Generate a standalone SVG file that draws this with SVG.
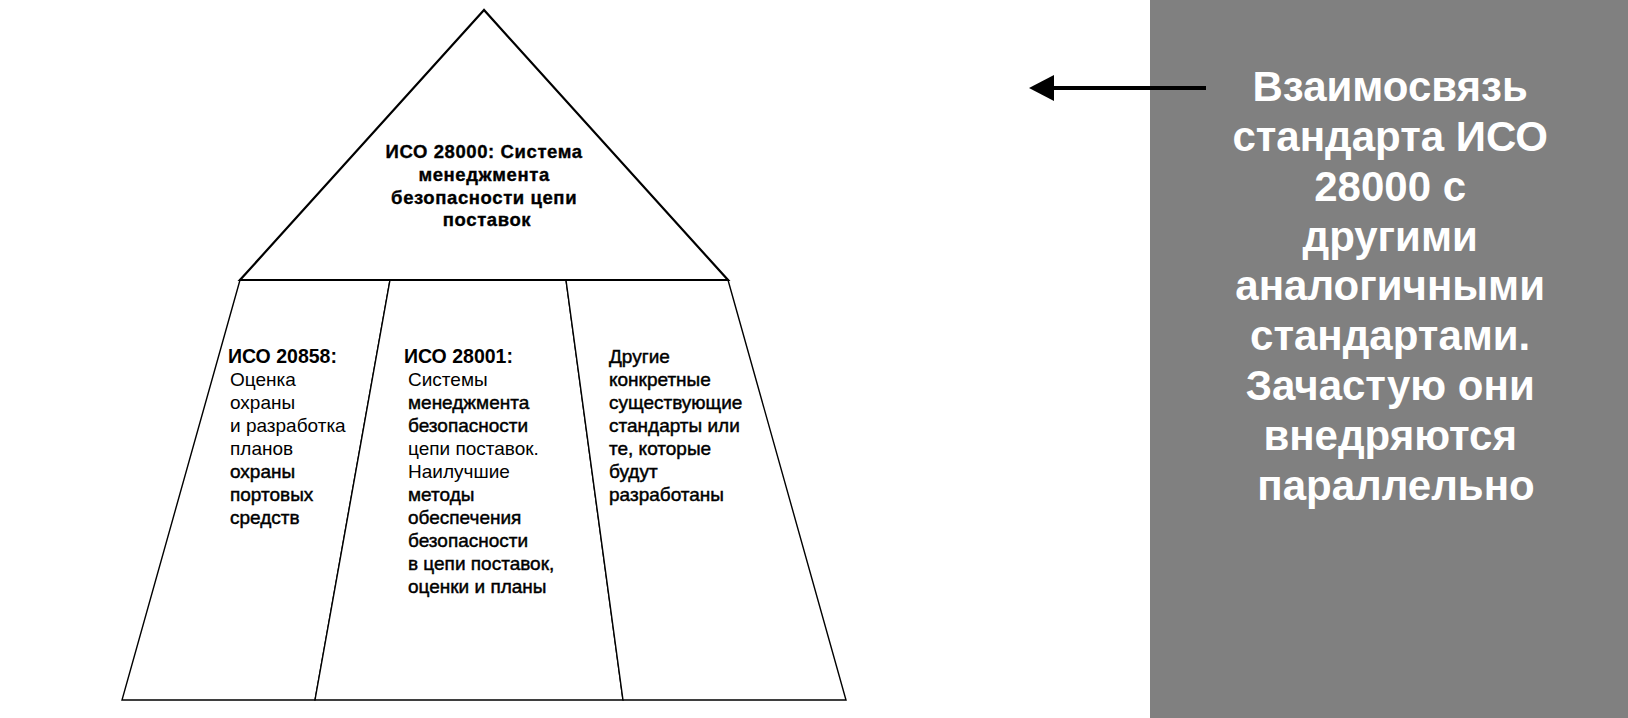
<svg xmlns="http://www.w3.org/2000/svg" width="1628" height="718" viewBox="0 0 1628 718">
<style>
  .shape { fill: #ffffff; stroke: #000000; stroke-linejoin: miter; }
  .tri { stroke-width: 2.2; }
  .col { stroke-width: 1.4; }
  text { font-family: "Liberation Sans", Arial, "Noto Sans", sans-serif; fill: #000000; }
  .top { font-size: 18.5px; font-weight: bold; text-anchor: middle; letter-spacing: 0.6px; stroke: #000000; stroke-width: 0.35; }
  .hd { font-size: 19.5px; font-weight: bold; }
  .r { font-size: 19px; }
  .rb { font-size: 19px; stroke: #000000; stroke-width: 0.45; }
  .panel-text { font-size: 42px; font-weight: bold; fill: #ffffff; text-anchor: middle; }
  .conn { stroke: #000000; stroke-width: 4; fill: none; }
</style>
<defs>
  <marker id="arrowhead" markerUnits="userSpaceOnUse" markerWidth="26" markerHeight="28" refX="0" refY="13" orient="auto">
    <polygon points="0,0 25,13 0,26" fill="#000000"/>
  </marker>
</defs>
<rect x="0" y="0" width="1628" height="718" fill="#ffffff"/>

<g id="panel">
  <rect x="1150" y="0" width="478" height="718" fill="#808080"/>
  <text class="panel-text">
    <tspan x="1396" y="101">Взаимосвязь</tspan>
    <tspan x="1396" y="151">стандарта ИСО</tspan>
    <tspan x="1396" y="201">28000 с</tspan>
    <tspan x="1396" y="251">другими</tspan>
    <tspan x="1396" y="300">аналогичными</tspan>
    <tspan x="1396" y="350">стандартами.</tspan>
    <tspan x="1396" y="400">Зачастую они</tspan>
    <tspan x="1396" y="450">внедряются</tspan>
    <tspan x="1396" y="500">параллельно</tspan>
  </text>
</g>

<g id="col-left">
  <polygon class="shape col" points="240,280 390,280 315,700 122,700"/>
  <text class="hd" x="228" y="363">ИСО 20858:</text>
  <text class="r" x="230" y="386">Оценка</text>
  <text class="r" x="230" y="409">охраны</text>
  <text class="r" x="230" y="432">и разработка</text>
  <text class="r" x="230" y="455">планов</text>
  <text class="rb" x="230" y="478">охраны</text>
  <text class="rb" x="230" y="501">портовых</text>
  <text class="rb" x="230" y="524">средств</text>
</g>

<g id="col-middle">
  <polygon class="shape col" points="390,280 566,280 623,700 315,700"/>
  <text class="hd" x="404" y="363">ИСО 28001:</text>
  <text class="r" x="408" y="386">Системы</text>
  <text class="rb" x="408" y="409">менеджмента</text>
  <text class="rb" x="408" y="432">безопасности</text>
  <text class="r" x="408" y="455">цепи поставок.</text>
  <text class="r" x="408" y="478">Наилучшие</text>
  <text class="rb" x="408" y="501">методы</text>
  <text class="rb" x="408" y="524">обеспечения</text>
  <text class="rb" x="408" y="547">безопасности</text>
  <text class="rb" x="408" y="570">в цепи поставок,</text>
  <text class="rb" x="408" y="593">оценки и планы</text>
</g>

<g id="col-right">
  <polygon class="shape col" points="566,280 728,280 846,700 623,700"/>
  <text class="rb" x="609" y="363">Другие</text>
  <text class="rb" x="609" y="386">конкретные</text>
  <text class="rb" x="609" y="409">существующие</text>
  <text class="rb" x="609" y="432">стандарты или</text>
  <text class="rb" x="609" y="455">те, которые</text>
  <text class="rb" x="609" y="478">будут</text>
  <text class="rb" x="609" y="501">разработаны</text>
</g>

<g id="top-triangle">
  <polygon class="shape tri" points="484,10 240,280 728,280"/>
  <text class="top">
    <tspan x="487" y="158">ИСО 28000: Система</tspan>
    <tspan x="487" y="181">менеджмента</tspan>
    <tspan x="487" y="204">безопасности цепи</tspan>
    <tspan x="487" y="226">поставок</tspan>
  </text>
</g>

<g id="connectors">
  <line class="conn" x1="1206" y1="88" x2="1054" y2="88" marker-end="url(#arrowhead)"/>
</g>
</svg>
